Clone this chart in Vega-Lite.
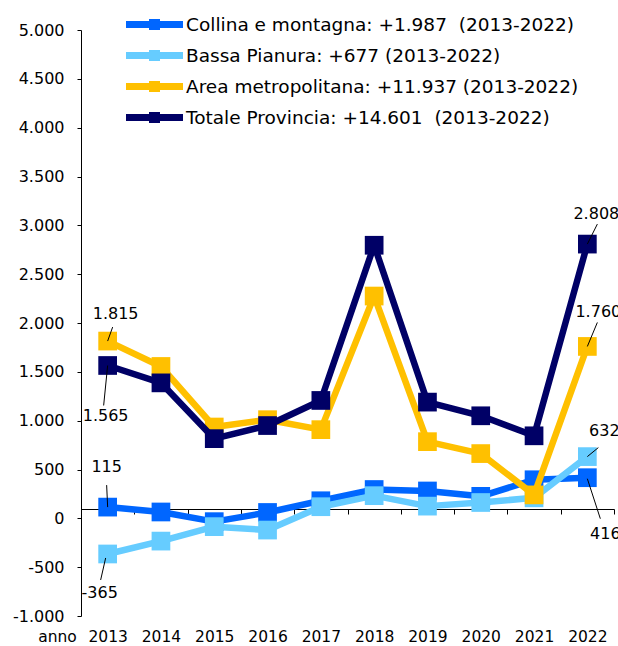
{
  "$schema": "https://vega.github.io/schema/vega-lite/v6.json",
  "width": 533,
  "height": 586,
  "autosize": {"type": "none"},
  "padding": {"left": 81, "top": 30, "right": 4, "bottom": 30},
  "background": "white",
  "config": {
    "font": "DejaVu Sans",
    "view": {"stroke": null},
    "locale": {"number": {"decimal": ",", "thousands": ".", "grouping": [3], "currency": ["€", ""], "minus": "-"}}
  },
  "data": {
    "values": [
      {"serie": "Collina e montagna", "anno": 2013, "valore": 115},
      {"serie": "Collina e montagna", "anno": 2014, "valore": 65},
      {"serie": "Collina e montagna", "anno": 2015, "valore": -34},
      {"serie": "Collina e montagna", "anno": 2016, "valore": 60},
      {"serie": "Collina e montagna", "anno": 2017, "valore": 180},
      {"serie": "Collina e montagna", "anno": 2018, "valore": 295},
      {"serie": "Collina e montagna", "anno": 2019, "valore": 280},
      {"serie": "Collina e montagna", "anno": 2020, "valore": 225},
      {"serie": "Collina e montagna", "anno": 2021, "valore": 395},
      {"serie": "Collina e montagna", "anno": 2022, "valore": 416},
      {"serie": "Bassa Pianura", "anno": 2013, "valore": -365},
      {"serie": "Bassa Pianura", "anno": 2014, "valore": -233},
      {"serie": "Bassa Pianura", "anno": 2015, "valore": -85},
      {"serie": "Bassa Pianura", "anno": 2016, "valore": -120},
      {"serie": "Bassa Pianura", "anno": 2017, "valore": 119},
      {"serie": "Bassa Pianura", "anno": 2018, "valore": 232},
      {"serie": "Bassa Pianura", "anno": 2019, "valore": 125},
      {"serie": "Bassa Pianura", "anno": 2020, "valore": 162},
      {"serie": "Bassa Pianura", "anno": 2021, "valore": 210},
      {"serie": "Bassa Pianura", "anno": 2022, "valore": 632},
      {"serie": "Area metropolitana", "anno": 2013, "valore": 1815},
      {"serie": "Area metropolitana", "anno": 2014, "valore": 1555},
      {"serie": "Area metropolitana", "anno": 2015, "valore": 935},
      {"serie": "Area metropolitana", "anno": 2016, "valore": 1010},
      {"serie": "Area metropolitana", "anno": 2017, "valore": 908},
      {"serie": "Area metropolitana", "anno": 2018, "valore": 2276},
      {"serie": "Area metropolitana", "anno": 2019, "valore": 785},
      {"serie": "Area metropolitana", "anno": 2020, "valore": 663},
      {"serie": "Area metropolitana", "anno": 2021, "valore": 240},
      {"serie": "Area metropolitana", "anno": 2022, "valore": 1760},
      {"serie": "Totale Provincia", "anno": 2013, "valore": 1565},
      {"serie": "Totale Provincia", "anno": 2014, "valore": 1387},
      {"serie": "Totale Provincia", "anno": 2015, "valore": 816},
      {"serie": "Totale Provincia", "anno": 2016, "valore": 950},
      {"serie": "Totale Provincia", "anno": 2017, "valore": 1207},
      {"serie": "Totale Provincia", "anno": 2018, "valore": 2796},
      {"serie": "Totale Provincia", "anno": 2019, "valore": 1190},
      {"serie": "Totale Provincia", "anno": 2020, "valore": 1050},
      {"serie": "Totale Provincia", "anno": 2021, "valore": 845},
      {"serie": "Totale Provincia", "anno": 2022, "valore": 2808}
    ]
  },
  "resolve": {"axis": {"x": "independent"}},
  "layer": [
    {
      "mark": {"type": "point", "opacity": 0},
      "encoding": {
        "x": {"field": "anno", "type": "quantitative",
          "scale": {"domain": [2012.5, 2022.5], "nice": false, "zero": false},
          "axis": {"orient": "bottom", "offset": -107, "values": [2012.5, 2013.5, 2014.5, 2015.5, 2016.5, 2017.5, 2018.5, 2019.5, 2020.5, 2021.5, 2022.5],
            "labels": false, "ticks": true, "tickSize": 5, "tickColor": "black", "tickWidth": 1, "domainColor": "black", "domainWidth": 1, "grid": false, "title": null}},
        "y": {"field": "valore", "type": "quantitative",
          "scale": {"domain": [-1000, 5000], "nice": false, "zero": false},
          "axis": {"orient": "left", "values": [-1000, -500, 0, 500, 1000, 1500, 2000, 2500, 3000, 3500, 4000, 4500, 5000],
            "format": ",d", "tickSize": 4, "tickColor": "black", "domainColor": "black", "labelPadding": 13, "labelFontSize": 16, "labelColor": "black", "grid": false, "title": null}}
      }
    },
    {
      "transform": [{"filter": {"field": "serie", "equal": "Collina e montagna"}}],
      "mark": {"type": "line", "strokeWidth": 6.5, "strokeJoin": "round", "point": {"shape": "square", "size": 350, "filled": true, "opacity": 1}},
      "encoding": {
        "x": {"field": "anno", "type": "quantitative",
          "axis": {"orient": "bottom", "values": [2013, 2014, 2015, 2016, 2017, 2018, 2019, 2020, 2021, 2022], "format": "d",
            "domain": false, "ticks": false, "tickSize": 0, "labelPadding": 13, "labelFontSize": 15.5, "labelColor": "black", "grid": false,
            "title": "anno", "titleX": -24, "titleY": 13, "titleAlign": "center", "titleAnchor": "start", "titleBaseline": "top", "titleFontWeight": "normal", "titleFontSize": 15.5, "titleColor": "black"}},
        "y": {"field": "valore", "type": "quantitative"},
        "color": {"field": "serie", "type": "nominal",
          "scale": {"domain": ["Collina e montagna", "Bassa Pianura", "Area metropolitana", "Totale Provincia"], "range": ["#0066FF", "#66CCFF", "#FFC000", "#000066"]},
          "legend": {"orient": "none", "legendX": 45, "legendY": -15, "title": null, "padding": 0,
            "symbolType": "M-3,-0.368H3V0.368H-3ZM-0.579,-0.579H0.579V0.579H-0.579Z", "symbolSize": 361, "symbolOffset": 19, "symbolStrokeWidth": 0,
            "labelOffset": 22, "labelFontSize": 18.5, "labelColor": "black", "labelLimit": 0, "rowPadding": 12,
            "labelExpr": "datum.label == 'Collina e montagna' ? 'Collina e montagna: +1.987\u00a0 (2013-2022)' : datum.label == 'Bassa Pianura' ? 'Bassa Pianura: +677 (2013-2022)' : datum.label == 'Area metropolitana' ? 'Area metropolitana: +11.937 (2013-2022)' : 'Totale Provincia: +14.601\u00a0 (2013-2022)'",
            "encode": {"symbols": {"update": {"fill": {"field": "value", "scale": "color"}, "stroke": {"value": "transparent"}, "opacity": {"value": 1}}}}}}
      }
    },
    {
      "transform": [{"filter": {"field": "serie", "equal": "Bassa Pianura"}}],
      "mark": {"type": "line", "strokeWidth": 6.5, "strokeJoin": "round", "point": {"shape": "square", "size": 350, "filled": true, "opacity": 1}},
      "encoding": {
        "x": {"field": "anno", "type": "quantitative", "axis": null},
        "y": {"field": "valore", "type": "quantitative"},
        "color": {"field": "serie", "type": "nominal"}
      }
    },
    {
      "transform": [{"filter": {"field": "serie", "equal": "Area metropolitana"}}],
      "mark": {"type": "line", "strokeWidth": 6.5, "strokeJoin": "round", "point": {"shape": "square", "size": 350, "filled": true, "opacity": 1}},
      "encoding": {
        "x": {"field": "anno", "type": "quantitative", "axis": null},
        "y": {"field": "valore", "type": "quantitative"},
        "color": {"field": "serie", "type": "nominal"}
      }
    },
    {
      "transform": [{"filter": {"field": "serie", "equal": "Totale Provincia"}}],
      "mark": {"type": "line", "strokeWidth": 6.5, "strokeJoin": "round", "point": {"shape": "square", "size": 350, "filled": true, "opacity": 1}},
      "encoding": {
        "x": {"field": "anno", "type": "quantitative", "axis": null},
        "y": {"field": "valore", "type": "quantitative"},
        "color": {"field": "serie", "type": "nominal"}
      }
    },
    {
      "transform": [{"filter": "datum.serie == 'Area metropolitana' && datum.anno == 2013"}],
      "encoding": {"x": {"field": "anno", "type": "quantitative", "axis": null}, "y": {"field": "valore", "type": "quantitative"}},
      "layer": [
        {"mark": {"type": "rule", "color": "black", "strokeWidth": 1, "xOffset": 0, "yOffset": 0, "x2Offset": 5, "y2Offset": -14}, "encoding": {"x2": {"field": "anno"}, "y2": {"field": "valore"}}},
        {"mark": {"type": "text", "dx": 8, "dy": -27, "fontSize": 16, "color": "black", "align": "center", "baseline": "middle"}, "encoding": {"text": {"field": "valore", "type": "quantitative", "format": ",d"}}}
      ]
    },
    {
      "transform": [{"filter": "datum.serie == 'Totale Provincia' && datum.anno == 2013"}],
      "encoding": {"x": {"field": "anno", "type": "quantitative", "axis": null}, "y": {"field": "valore", "type": "quantitative"}},
      "layer": [
        {"mark": {"type": "rule", "color": "black", "strokeWidth": 1, "xOffset": 0, "yOffset": 0, "x2Offset": -4, "y2Offset": 40}, "encoding": {"x2": {"field": "anno"}, "y2": {"field": "valore"}}},
        {"mark": {"type": "text", "dx": -2, "dy": 51, "fontSize": 16, "color": "black", "align": "center", "baseline": "middle"}, "encoding": {"text": {"field": "valore", "type": "quantitative", "format": ",d"}}}
      ]
    },
    {
      "transform": [{"filter": "datum.serie == 'Collina e montagna' && datum.anno == 2013"}],
      "encoding": {"x": {"field": "anno", "type": "quantitative", "axis": null}, "y": {"field": "valore", "type": "quantitative"}},
      "layer": [
        {"mark": {"type": "rule", "color": "black", "strokeWidth": 1, "xOffset": 0, "yOffset": 0, "x2Offset": -1, "y2Offset": -22}, "encoding": {"x2": {"field": "anno"}, "y2": {"field": "valore"}}},
        {"mark": {"type": "text", "dx": -1, "dy": -40, "fontSize": 16, "color": "black", "align": "center", "baseline": "middle"}, "encoding": {"text": {"field": "valore", "type": "quantitative", "format": ",d"}}}
      ]
    },
    {
      "transform": [{"filter": "datum.serie == 'Bassa Pianura' && datum.anno == 2013"}],
      "encoding": {"x": {"field": "anno", "type": "quantitative", "axis": null}, "y": {"field": "valore", "type": "quantitative"}},
      "layer": [
        {"mark": {"type": "rule", "color": "black", "strokeWidth": 1, "xOffset": -2, "yOffset": 4, "x2Offset": -7, "y2Offset": 26}, "encoding": {"x2": {"field": "anno"}, "y2": {"field": "valore"}}},
        {"mark": {"type": "text", "dx": -8, "dy": 39, "fontSize": 16, "color": "black", "align": "center", "baseline": "middle"}, "encoding": {"text": {"field": "valore", "type": "quantitative", "format": ",d"}}}
      ]
    },
    {
      "transform": [{"filter": "datum.serie == 'Totale Provincia' && datum.anno == 2022"}],
      "encoding": {"x": {"field": "anno", "type": "quantitative", "axis": null}, "y": {"field": "valore", "type": "quantitative"}},
      "layer": [
        {"mark": {"type": "rule", "color": "black", "strokeWidth": 1, "xOffset": 0, "yOffset": 0, "x2Offset": 10, "y2Offset": -20}, "encoding": {"x2": {"field": "anno"}, "y2": {"field": "valore"}}},
        {"mark": {"type": "text", "dx": 9, "dy": -30, "fontSize": 16, "color": "black", "align": "center", "baseline": "middle"}, "encoding": {"text": {"field": "valore", "type": "quantitative", "format": ",d"}}}
      ]
    },
    {
      "transform": [{"filter": "datum.serie == 'Area metropolitana' && datum.anno == 2022"}],
      "encoding": {"x": {"field": "anno", "type": "quantitative", "axis": null}, "y": {"field": "valore", "type": "quantitative"}},
      "layer": [
        {"mark": {"type": "rule", "color": "black", "strokeWidth": 1, "xOffset": 0, "yOffset": 0, "x2Offset": 10, "y2Offset": -24}, "encoding": {"x2": {"field": "anno"}, "y2": {"field": "valore"}}},
        {"mark": {"type": "text", "dx": 11, "dy": -34, "fontSize": 16, "color": "black", "align": "center", "baseline": "middle"}, "encoding": {"text": {"field": "valore", "type": "quantitative", "format": ",d"}}}
      ]
    },
    {
      "transform": [{"filter": "datum.serie == 'Bassa Pianura' && datum.anno == 2022"}],
      "encoding": {"x": {"field": "anno", "type": "quantitative", "axis": null}, "y": {"field": "valore", "type": "quantitative"}},
      "layer": [
        {"mark": {"type": "rule", "color": "black", "strokeWidth": 1, "xOffset": 0, "yOffset": 0, "x2Offset": 11, "y2Offset": -9}, "encoding": {"x2": {"field": "anno"}, "y2": {"field": "valore"}}},
        {"mark": {"type": "text", "dx": 17, "dy": -26, "fontSize": 16, "color": "black", "align": "center", "baseline": "middle"}, "encoding": {"text": {"field": "valore", "type": "quantitative", "format": ",d"}}}
      ]
    },
    {
      "transform": [{"filter": "datum.serie == 'Collina e montagna' && datum.anno == 2022"}],
      "encoding": {"x": {"field": "anno", "type": "quantitative", "axis": null}, "y": {"field": "valore", "type": "quantitative"}},
      "layer": [
        {"mark": {"type": "rule", "color": "black", "strokeWidth": 1, "xOffset": 0, "yOffset": 1, "x2Offset": 13, "y2Offset": 41}, "encoding": {"x2": {"field": "anno"}, "y2": {"field": "valore"}}},
        {"mark": {"type": "text", "dx": 18, "dy": 56, "fontSize": 16, "color": "black", "align": "center", "baseline": "middle"}, "encoding": {"text": {"field": "valore", "type": "quantitative", "format": ",d"}}}
      ]
    }
  ]
}
